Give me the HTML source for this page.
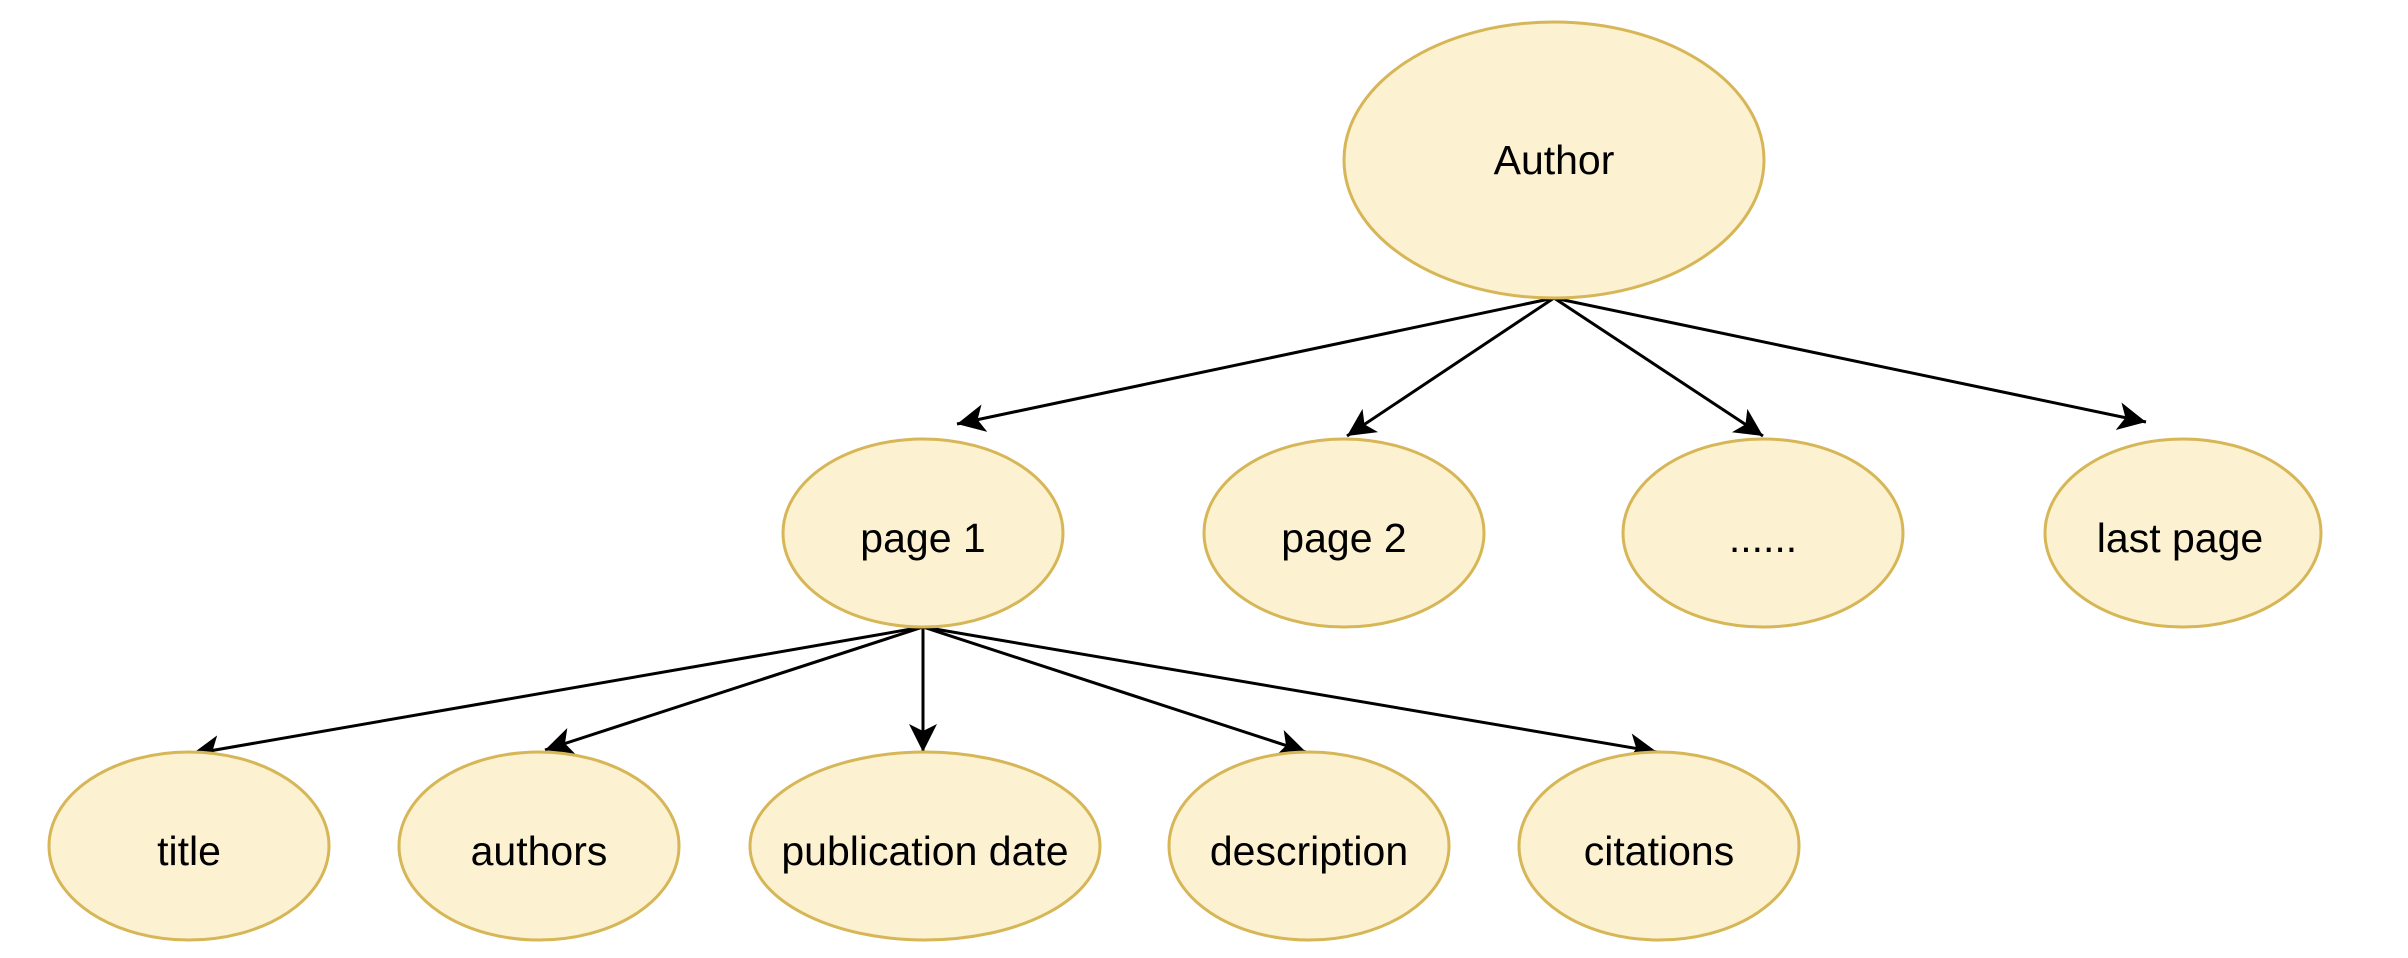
<!DOCTYPE html>
<html><head><meta charset="utf-8"><style>
html,body{margin:0;padding:0;background:#fff;}
svg{display:block;}
text{font-family:"Liberation Sans",Helvetica,Arial,sans-serif;font-size:41px;fill:#000;text-anchor:middle;dominant-baseline:central;}
</style></head><body>
<svg width="2408" height="958" viewBox="0 0 2408 958" xmlns="http://www.w3.org/2000/svg">
<defs>
<marker id="a" markerUnits="userSpaceOnUse" markerWidth="34" markerHeight="34" viewBox="0 0 34 34" refX="28" refY="17" orient="auto">
<path d="M0,3 L28,17 L0,31 L7,17 Z" fill="#000"/>
</marker>
</defs>
<g stroke="#000" stroke-width="3" fill="none" marker-end="url(#a)">
<line x1="1554" y1="298" x2="957" y2="424"/>
<line x1="1554" y1="298" x2="1347" y2="436"/>
<line x1="1554" y1="298" x2="1763" y2="436"/>
<line x1="1554" y1="298" x2="2146" y2="422"/>
<line x1="923" y1="627" x2="192" y2="754"/>
<line x1="923" y1="627" x2="545" y2="750"/>
<line x1="923" y1="627" x2="923" y2="752"/>
<line x1="923" y1="627" x2="1306" y2="752"/>
<line x1="923" y1="627" x2="1657" y2="752"/>
</g>
<g fill="#fcf1d0" stroke="#d6b656" stroke-width="3">
<ellipse cx="1554" cy="160" rx="210" ry="138"/>
<ellipse cx="923" cy="533" rx="140" ry="94"/>
<ellipse cx="1344" cy="533" rx="140" ry="94"/>
<ellipse cx="1763" cy="533" rx="140" ry="94"/>
<ellipse cx="2183" cy="533" rx="138" ry="94"/>
<ellipse cx="189" cy="846" rx="140" ry="94"/>
<ellipse cx="539" cy="846" rx="140" ry="94"/>
<ellipse cx="925" cy="846" rx="175" ry="94"/>
<ellipse cx="1309" cy="846" rx="140" ry="94"/>
<ellipse cx="1659" cy="846" rx="140" ry="94"/>
</g>
<text x="1554" y="160">Author</text>
<text x="923" y="538">page 1</text>
<text x="1344" y="538">page 2</text>
<text x="1763" y="538">......</text>
<text x="2180" y="538">last page</text>
<text x="189" y="851">title</text>
<text x="539" y="851">authors</text>
<text x="925" y="851">publication date</text>
<text x="1309" y="851">description</text>
<text x="1659" y="851">citations</text>
</svg>
</body></html>
